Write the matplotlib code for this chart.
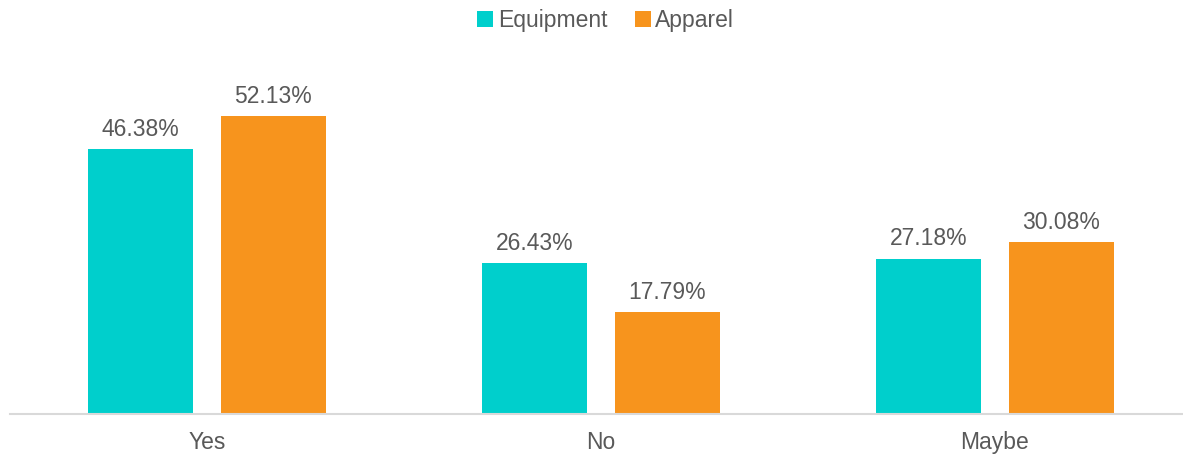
import numpy as np
import matplotlib
matplotlib.use('Agg')
import matplotlib.pyplot as plt

categories = ['Yes', 'No', 'Maybe']
equipment = [46.38, 26.43, 27.18]
apparel = [52.13, 17.79, 30.08]

TEAL = '#00CFCC'
ORANGE = '#F7941D'
GREY = '#595959'

plt.rcParams['font.family'] = ['Liberation Sans', 'DejaVu Sans']

fig = plt.figure(figsize=(11.83, 4.55), dpi=100)
ax = fig.add_axes([10 / 1183, 41 / 455, 1182 / 1183, 343 / 455])

x = np.arange(len(categories))
w = 0.266
b1 = ax.bar(x - 0.168, equipment, w, color=TEAL, label='Equipment')
b2 = ax.bar(x + 0.168, apparel, w, color=ORANGE, label='Apparel')

for bars in (b1, b2):
    for r in bars:
        ax.annotate('%.2f%%' % r.get_height(),
                    (r.get_x() + r.get_width() / 2, r.get_height()),
                    xytext=(0, 6), textcoords='offset points',
                    ha='center', va='bottom', fontsize=16.5, color=GREY)

ax.set_xlim(-0.5, 2.5)
ax.set_ylim(0, 60)
ax.set_xticks(x)
ax.set_xticklabels(categories, fontsize=16.5, color=GREY)
ax.tick_params(axis='x', length=0, pad=12)
ax.set_yticks([])
for s in ['top', 'right', 'left']:
    ax.spines[s].set_visible(False)
ax.spines['bottom'].set_color('#D9D9D9')
ax.spines['bottom'].set_linewidth(1.5)

fig.legend(loc='center', bbox_to_anchor=(0.512, 0.955), ncol=2, frameon=False,
           fontsize=16.5, labelcolor=GREY, handlelength=0.7, handleheight=0.7,
           handletextpad=0.2, columnspacing=1.2)

fig.savefig('out.png', dpi=100)
